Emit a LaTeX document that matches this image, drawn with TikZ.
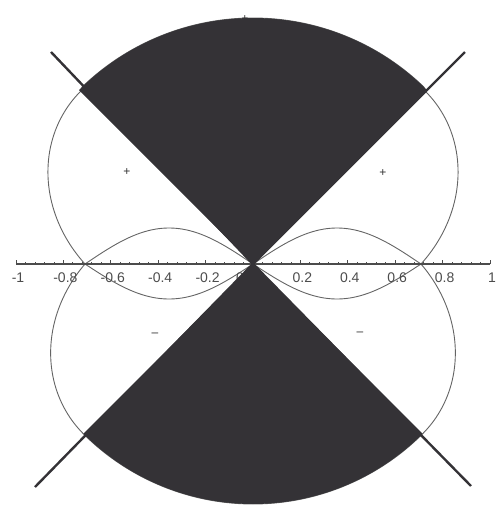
\documentclass[tikz,border=0pt]{standalone}
\usepackage{fontspec}
\setmainfont{Liberation Sans}
\definecolor{darkfill}{RGB}{52,50,54}
\definecolor{linegray}{RGB}{100,100,100}
\begin{document}
\begin{tikzpicture}[x=1pt,y=1pt,
  declare function={rU(\t)=168+76*max(abs(sin(2*\t)),and(\t>45,\t<135))+2*and(\t>45,\t<135);
                    rL(\t)=168+72*max(abs(sin(2*\t)),and(\t>225,\t<315));},
  lobe/.style={draw=linegray, line width=0.9pt},
  wedge/.style={fill=darkfill},
  diag/.style={draw=darkfill, line width=2.4pt},
  axisline/.style={draw=black!70, line width=1.1pt},
  tickmark/.style={draw=black!70, line width=0.8pt},
  ticklbl/.style={font=\fontsize{14}{14}\selectfont, text=black!70, inner sep=0pt},
  sign/.style={font=\fontsize{12}{12}\selectfont, text=black!80, inner sep=0pt}]
\useasboundingbox (-253,-243) rectangle (246,264);
\coordinate (O) at (0,0);
\coordinate (tl) at (-202,212);
\coordinate (tr) at (212,212);
\coordinate (bl) at (-218,-223);
\coordinate (br) at (218,-222);
\coordinate (axL) at (-237,0);
\coordinate (axR) at (237,0);
% big lobes
\draw[lobe] plot[domain=0:180,samples=181] ({rU(\x)*cos(\x)},{rU(\x)*sin(\x)});
\draw[lobe] plot[domain=180:360,samples=181] ({rL(\x)*cos(\x)},{rL(\x)*sin(\x)});
% small lobes
\draw[lobe] plot[domain=0:168,samples=60] (\x,{36*sin(\x/168*180)})
  -- plot[domain=168:0,samples=60] (\x,{-35*sin(\x/168*180)}) -- cycle;
\draw[lobe] plot[domain=0:168,samples=60] (-\x,{36*sin(\x/168*180)})
  -- plot[domain=168:0,samples=60] (-\x,{-35*sin(\x/168*180)}) -- cycle;
% axis
\draw[axisline] (axL) -- (axR);
\foreach \i in {-25,...,25} \draw[tickmark] (\i*9.48,0) -- ++(0,2.5);
\foreach \i in {-5,...,5} \draw[tickmark] (\i*47.4,0) -- ++(0,4);
\foreach \v/\t in {-5/-1,-4/-0.8,-3/-0.6,-2/-0.4,-1/-0.2,1/0.2,2/0.4,3/0.6,4/0.8,5/1}
  \node[ticklbl] (lbl\v) at (\v*47.4+2,-14) {\t};
\node[ticklbl] (lbl0) at (-13,-14) {0};
% signs
\node[sign] (pl) at (-126,92) {+};
\node[sign] (pr) at (130,91) {+};
\node[sign] (ml) at (-98,-71) {\textendash};
\node[sign] (mr) at (107,-70) {\textendash};
\node[sign] (pt) at (-8,245) {+};
\node[sign] (mb) at (-13,-237) {\textendash};
% wedges
\fill[wedge] (O) -- (45:246) arc[start angle=45,end angle=135,radius=246] -- cycle;
\fill[wedge] (O) -- (225:240) arc[start angle=225,end angle=315,radius=240] -- cycle;
% diagonals
\draw[diag] (tl) -- (O) -- (br);
\draw[diag] (tr) -- (O) -- (bl);
\end{tikzpicture}
\end{document}
